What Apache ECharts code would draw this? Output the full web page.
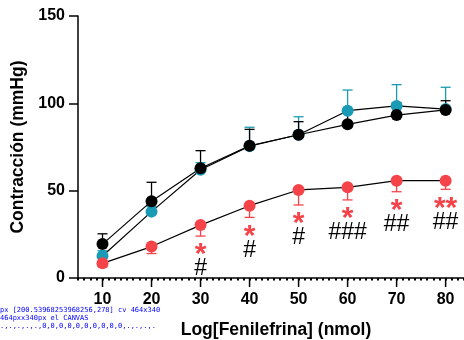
<!DOCTYPE html>
<html>
<head>
<meta charset="utf-8">
<script src="https://cdn.jsdelivr.net/npm/echarts@6/dist/echarts.min.js"></script>
<style>
  html, body { margin: 0; padding: 0; background: #fff; }
  #chart { width: 464px; height: 340px; }
  #dbg { position: absolute; left: 0; top: 306px; width: 175px; font: 7px monospace; color: #00f; white-space: pre-wrap; }
</style>
</head>
<body>
<div id="chart"></div>
<div id="dbg"></div>
<script>
// Phenylephrine dose-response: mean contraction and SD per group
const doses = [10, 20, 30, 40, 50, 60, 70, 80];

const blackMean = [19.4, 44, 62.8, 75.7, 82, 88, 93.3, 96.2];
const blackErr  = [5.9, 10.8, 10.1, 9.4, 7.5, 7.5, 7, 5.3];

const cyanMean  = [12.6, 38, 62, 75.5, 82, 95.8, 98.5, 96.7];
const cyanErr   = [3, 3, 4, 10.8, 10.3, 11.8, 12.2, 12.5];

const redMean   = [8.4, 18, 30.3, 41.4, 50.4, 51.9, 55.7, 55.7];
const redErr    = [2, 4, 6.3, 6.7, 8.6, 7.2, 6.3, 4.9];

// significance marks drawn under the red group
const starLabels = ['', '', '*', '*', '*', '*', '*', '**'];
const hashLabels = ['', '', '#', '#', '#', '###', '##', '##'];

const xTicks = [10, 20, 30, 40, 50, 60, 70, 80];
const yTicks = [0, 50, 100, 150];

const X_MIN = 5, X_MAX = 83.75, X_STEP = 1.25;

const RED = '#F5434A';
const CYAN = '#1A9BB5';
const FONT = '"Liberation Sans", Arial, sans-serif';

function errorBars(means, errs, dir, color) {
  return {
    type: 'custom',
    clip: false,
    data: doses.map((d, i) => [d, means[i], errs[i]]),
    renderItem: function (params, api) {
      const x = api.value(0), m = api.value(1), e = api.value(2);
      const p0 = api.coord([x, m]);
      const p1 = api.coord([x, m + dir * e]);
      const hw = 5;
      const style = { stroke: color, lineWidth: 1.3 };
      return {
        type: 'group',
        children: [
          { type: 'line', shape: { x1: p0[0], y1: p0[1], x2: p1[0], y2: p1[1] }, style: style },
          { type: 'line', shape: { x1: p1[0] - hw, y1: p1[1], x2: p1[0] + hw, y2: p1[1] }, style: style }
        ]
      };
    },
    silent: true
  };
}

function meanLine(means, color) {
  return {
    type: 'line',
    data: doses.map((d, i) => [d, means[i]]),
    symbol: 'circle',
    symbolSize: 12,
    itemStyle: { color: color },
    lineStyle: { color: '#000', width: 1.2 },
    silent: true
  };
}

const annotations = {
  type: 'custom',
  clip: false,
  data: doses.map((d, i) => [d, redMean[i] - redErr[i]]),
  renderItem: function (params, api) {
    const i = params.dataIndex;
    const p = api.coord([api.value(0), api.value(1)]);
    return {
      type: 'group',
      children: [
        { type: 'text', style: { text: starLabels[i], x: p[0], y: p[1] + 19, fill: RED,
            font: 'bold 30px ' + FONT, align: 'center', verticalAlign: 'middle' } },
        { type: 'text', style: { text: hashLabels[i], x: p[0], y: p[1] + 33, fill: '#000',
            font: '23px ' + FONT, align: 'center', verticalAlign: 'middle' } }
      ]
    };
  },
  silent: true
};

const chart = echarts.init(document.getElementById('chart'), null, { renderer: 'canvas' });

chart.setOption({
  animation: false,
  grid: { left: 78, right: 0, top: 16, bottom: 62, outerBoundsMode: 'none' },
  xAxis: {
    type: 'value',
    min: X_MIN,
    max: X_MAX,
    interval: X_STEP,
    name: 'Log[Fenilefrina] (nmol)',
    nameLocation: 'middle',
    nameGap: 43,
    nameTextStyle: { fontFamily: FONT, fontWeight: 'bold', fontSize: 17.5, color: '#000', padding: [0, 0, 0, 10] },
    axisLine: { show: true, onZero: false, lineStyle: { color: '#000', width: 1.5 } },
    axisTick: { show: true, length: 2.5, lineStyle: { color: '#000', width: 2 } },
    axisLabel: { margin: 14, fontFamily: FONT, fontWeight: 'bold', fontSize: 16, color: '#000',
      formatter: v => { const r = Math.round(v * 100) / 100; return xTicks.includes(r) ? String(r) : ''; } },
    splitLine: { show: false }
  },
  yAxis: {
    type: 'value',
    min: 0,
    max: 150,
    interval: 50,
    name: 'Contracción (mmHg)',
    nameLocation: 'middle',
    nameGap: 35,
    nameTextStyle: { fontFamily: FONT, fontWeight: 'bold', fontSize: 17.5, color: '#000' },
    axisLine: { show: true, lineStyle: { color: '#000', width: 1.5 } },
    axisTick: { show: true, length: 9, lineStyle: { color: '#000', width: 1.5 } },
    axisLabel: { margin: 13, fontFamily: FONT, fontWeight: 'bold', fontSize: 16, color: '#000',
      formatter: v => (yTicks.includes(v) ? String(v) : '') },
    splitLine: { show: false }
  },
  series: [
    errorBars(cyanMean, cyanErr, 1, CYAN),
    meanLine(cyanMean, CYAN),
    errorBars(redMean, redErr, -1, RED),
    meanLine(redMean, RED),
    errorBars(blackMean, blackErr, 1, '#000'),
    meanLine(blackMean, '#000'),
    annotations
  ]
});

// long dose ticks, placed through the x scale
const toPx = v => chart.convertToPixel({ gridIndex: 0 }, v);
chart.setOption({
  graphic: xTicks.map(v => {
    const p = toPx([v, 0]);
    return { type: 'line', z: 100, silent: true,
      shape: { x1: p[0], y1: p[1], x2: p[0], y2: p[1] + 9 },
      style: { stroke: '#000', lineWidth: 1.5 } };
  })
});

// pixel probe of the canvas column at x=200 around the baseline
chart.getZr().refreshImmediately();
const dbg = document.getElementById('dbg');
try {
  const cv = chart.getDom().querySelector('canvas');
  const ctx = cv.getContext('2d');
  const col = [];
  for (let y = 272; y <= 290; y++) {
    const d = ctx.getImageData(200, y, 1, 1).data;
    col.push(d[3] ? d[0] : '.');
  }
  const el = document.elementFromPoint(200, 278);
  dbg.textContent = 'px ' + JSON.stringify(toPx([30, 0])) + ' cv ' + cv.width + 'x' + cv.height +
    ' ' + cv.style.width + 'x' + cv.style.height + ' el ' + (el && el.tagName) + '\n' + col.join(',');
} catch (e) { dbg.textContent = 'E ' + e.message; }
</script>
</body>
</html>
